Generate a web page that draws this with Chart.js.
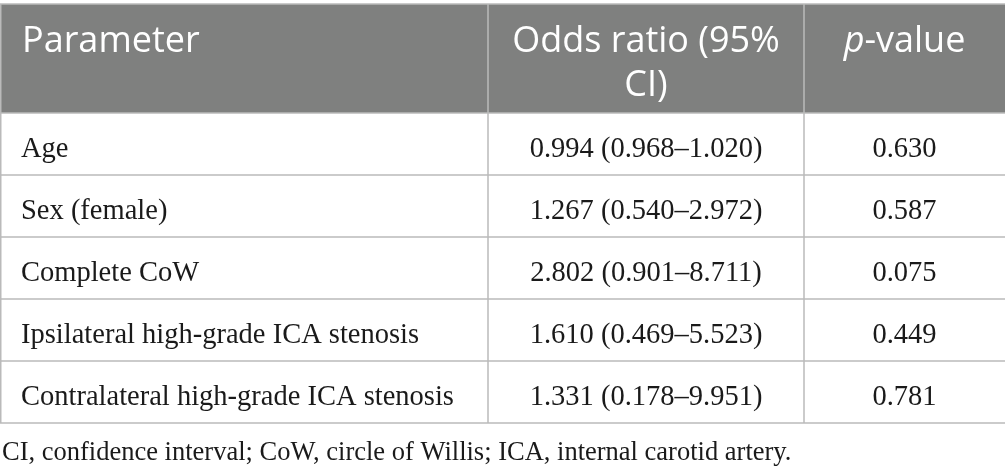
<!DOCTYPE html>
<html>
<head>
<meta charset="utf-8">
<script src="https://cdn.jsdelivr.net/npm/chart.js@4.4.1/dist/chart.umd.min.js"></script>
<style>
html, body { margin: 0; padding: 0; background: #fff; }
#wrap { width: 1005px; height: 474px; position: relative; }
</style>
</head>
<body>
<div id="wrap"><canvas id="oddsTable"></canvas></div>
<script>
// table content
const headers = [["Parameter"], ["Odds ratio (95%", "CI)"], ["p-value"]];
const parameters = ["Age", "Sex (female)", "Complete CoW", "Ipsilateral high-grade ICA stenosis", "Contralateral high-grade ICA stenosis"];
const oddsRatios = [0.994, 1.267, 2.802, 1.610, 1.331];
const ciLower = [0.968, 0.540, 0.901, 0.469, 0.178];
const ciUpper = [1.020, 2.972, 8.711, 5.523, 9.951];
const pValues = [0.630, 0.587, 0.075, 0.449, 0.781];
const footnote = "CI, confidence interval; CoW, circle of Willis; ICA, internal carotid artery.";

// layout, in scale units
const colEdges = [0, 488, 804, 1005];
const headTop = 4, headBottom = 113, rowHeight = 62;

const fmt = v => v.toFixed(3);

const tablePlugin = {
    id: 'tableDraw',
    afterDraw(chart) {
        const ctx = chart.ctx;
        const x = chart.scales.x, y = chart.scales.y;
        const X = v => x.getPixelForValue(v);
        const Y = v => y.getPixelForValue(v);
        const rows = parameters.map((p, i) => [
            p,
            fmt(oddsRatios[i]) + " (" + fmt(ciLower[i]) + "\u2013" + fmt(ciUpper[i]) + ")",
            fmt(pValues[i])
        ]);
        const tableBottom = headBottom + rowHeight * rows.length;
        const colCenter = c => X((colEdges[c] + colEdges[c + 1]) / 2);

        ctx.save();
        // header background
        ctx.fillStyle = '#7f807f';
        ctx.fillRect(X(0), Y(headTop), X(1005) - X(0), Y(headBottom) - Y(headTop));

        // grid lines
        ctx.strokeStyle = '#bababa';
        ctx.lineWidth = 1.5;
        ctx.beginPath();
        ctx.moveTo(X(0), Y(headTop)); ctx.lineTo(X(1005), Y(headTop));
        for (let r = 0; r <= rows.length; r++) {
            const yy = Y(headBottom + r * rowHeight);
            ctx.moveTo(X(0), yy); ctx.lineTo(X(1005), yy);
        }
        ctx.moveTo(X(0) + 0.75, Y(headTop)); ctx.lineTo(X(0) + 0.75, Y(tableBottom));
        for (let c = 1; c < colEdges.length - 1; c++) {
            ctx.moveTo(X(colEdges[c]), Y(headTop)); ctx.lineTo(X(colEdges[c]), Y(tableBottom));
        }
        ctx.stroke();

        // header text
        ctx.fillStyle = '#ffffff';
        ctx.textBaseline = 'alphabetic';
        ctx.font = '36px "Open Sans"';
        ctx.textAlign = 'left';
        ctx.fillText(headers[0][0], X(22), Y(52));
        ctx.textAlign = 'center';
        headers[1].forEach((line, i) => ctx.fillText(line, colCenter(1), Y(52 + i * 44)));
        // p-value with italic p
        const pv = headers[2][0];
        ctx.font = 'italic 36px "Open Sans"';
        const wP = ctx.measureText(pv[0]).width;
        ctx.font = '36px "Open Sans"';
        const wRest = ctx.measureText(pv.slice(1)).width;
        const start = colCenter(2) - (wP + wRest) / 2;
        ctx.textAlign = 'left';
        ctx.font = 'italic 36px "Open Sans"';
        ctx.fillText(pv[0], start, Y(52));
        ctx.font = '36px "Open Sans"';
        ctx.fillText(pv.slice(1), start + wP, Y(52));

        // body text
        ctx.fillStyle = '#1a1a1a';
        ctx.font = '28.5px "Liberation Serif"';
        rows.forEach((cells, r) => {
            const base = Y(headBottom + r * rowHeight + 44);
            ctx.textAlign = 'left';
            ctx.fillText(cells[0], X(21), base);
            ctx.textAlign = 'center';
            ctx.fillText(cells[1], colCenter(1), base);
            ctx.fillText(cells[2], colCenter(2), base);
        });

        // footnote
        ctx.font = '26.5px "Liberation Serif"';
        ctx.textAlign = 'left';
        ctx.fillText(footnote, X(2), Y(460));
        ctx.restore();
    }
};

new Chart(document.getElementById("oddsTable"), {
    type: 'scatter',
    data: {
        datasets: [{
            data: [],
            label: "table"
        }]
    },
    options: {
        responsive: true,
        maintainAspectRatio: false,
        animation: false,
        layout: { padding: 0 },
        plugins: {
            legend: { display: false },
            tooltip: { enabled: false },
            title: { display: false }
        },
        scales: {
            x: { type: 'linear', min: 0, max: 1005, display: false },
            y: { type: 'linear', min: 0, max: 474, reverse: true, display: false }
        }
    },
    plugins: [tablePlugin]
});
</script>
</body>
</html>
